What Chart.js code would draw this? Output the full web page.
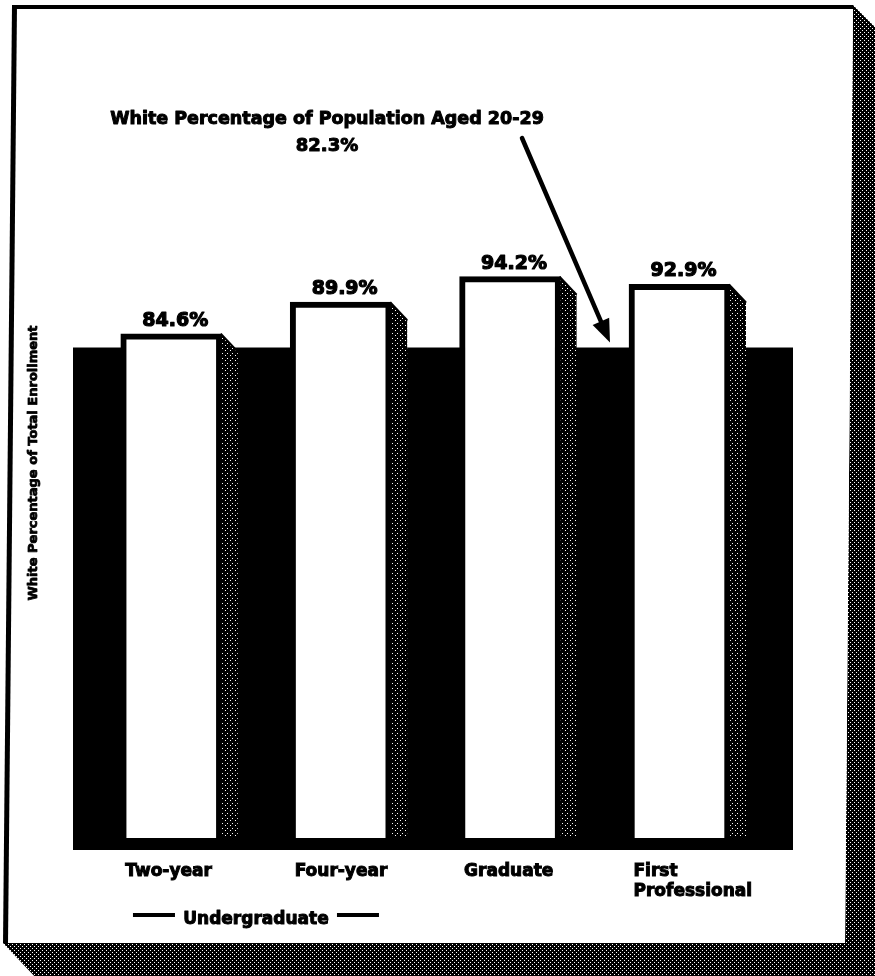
<!DOCTYPE html>
<html><head><meta charset="utf-8">
<script src="https://cdn.jsdelivr.net/npm/chart.js@4/dist/chart.umd.min.js"></script>
<style>html,body{margin:0;padding:0;background:#fff;} #wrap{position:relative;width:875px;height:976px;}</style>
</head><body><div id="wrap"><canvas id="c" width="875" height="976"></canvas></div>
<script>
// ---- data ----
const categories = ['Two-year', 'Four-year', 'Graduate', ['First', 'Professional']];
const whiteShareOfEnrollment = [84.6, 89.9, 94.2, 92.9];
const populationShare = [82.3];
const annotationTitle = 'White Percentage of Population Aged 20-29';
const yAxisTitle = 'White Percentage of Total Enrollment';
const groupLabel = 'Undergraduate';
const groupSpan = [0, 1];

const FONT = '"DejaVu Sans", "Liberation Sans", sans-serif';

function makePattern(size, whites) {
  const c = document.createElement('canvas'); c.width = c.height = size;
  const g = c.getContext('2d'); g.fillStyle = '#000'; g.fillRect(0, 0, size, size);
  g.fillStyle = '#fff'; whites.forEach(([x, y]) => g.fillRect(x, y, 1, 1));
  return c;
}
const frameTile = makePattern(4, [[0,0],[2,2]]);
const barTile = makePattern(5, [[0,0],[2,3]]);

function boldText(ctx, text, x, y, sw) {
  ctx.lineWidth = sw; ctx.strokeStyle = '#000'; ctx.lineJoin = 'round';
  ctx.strokeText(text, x, y); ctx.fillText(text, x, y);
}

const framePlugin = {
  id: 'frame',
  beforeDraw(chart) {
    const ctx = chart.ctx;
    ctx.save();
    ctx.fillStyle = '#fff'; ctx.fillRect(0, 0, chart.width, chart.height);
    // dithered drop shadow
    ctx.fillStyle = ctx.createPattern(frameTile, 'repeat');
    ctx.beginPath();
    ctx.moveTo(853, 5); ctx.lineTo(880, 32); ctx.lineTo(880, 980); ctx.lineTo(38, 980);
    ctx.lineTo(3, 943); ctx.lineTo(845, 943); ctx.closePath(); ctx.fill();
    // panel
    ctx.fillStyle = '#fff';
    ctx.beginPath();
    ctx.moveTo(12, 5); ctx.lineTo(853, 5); ctx.lineTo(845, 943); ctx.lineTo(3, 943); ctx.closePath(); ctx.fill();
    // borders
    ctx.fillStyle = '#000';
    ctx.fillRect(12, 5, 841, 4);
    ctx.beginPath();
    ctx.moveTo(12, 5); ctx.lineTo(17, 5); ctx.lineTo(8, 943); ctx.lineTo(3, 943); ctx.closePath(); ctx.fill();
    ctx.restore();
  }
};

const bandPlugin = {
  id: 'band',
  beforeDatasetsDraw(chart) {
    const ctx = chart.ctx, a = chart.chartArea, ys = chart.scales.y;
    const top = ys.getPixelForValue(populationShare[0]);
    ctx.save();
    ctx.fillStyle = '#000';
    ctx.fillRect(a.left, top, a.right - a.left, a.bottom - top);
    // bar shadows
    const pat = ctx.createPattern(barTile, 'repeat');
    chart.getDatasetMeta(0).data.forEach(bar => {
      const p = bar.getProps(['x', 'y', 'width', 'base'], true);
      const r = p.x + p.width / 2;
      ctx.fillStyle = pat;
      ctx.beginPath();
      ctx.moveTo(r - 1, p.y); ctx.lineTo(r + 16, p.y + 18); ctx.lineTo(r + 16, p.base);
      ctx.lineTo(r - 1, p.base); ctx.closePath(); ctx.fill();
      ctx.strokeStyle = '#000'; ctx.lineWidth = 2;
      ctx.beginPath(); ctx.moveTo(r - 1, p.y); ctx.lineTo(r + 16, p.y + 18); ctx.stroke();
    });
    ctx.restore();
  },
  afterDatasetsDraw(chart) {
    const ctx = chart.ctx, xs = chart.scales.x, ys = chart.scales.y;
    ctx.save();
    ctx.fillStyle = '#000';
    // value labels
    ctx.font = 'bold 19px ' + FONT;
    ctx.textAlign = 'center'; ctx.textBaseline = 'alphabetic';
    chart.getDatasetMeta(0).data.forEach((bar, i) => {
      const p = bar.getProps(['x', 'y'], true);
      boldText(ctx, whiteShareOfEnrollment[i].toFixed(1) + '%', p.x + 4, p.y - 8, 1.2);
    });
    // annotation
    ctx.font = 'bold 17.5px ' + FONT;
    boldText(ctx, annotationTitle, 327, 124, 1);
    ctx.font = 'bold 18px ' + FONT;
    boldText(ctx, populationShare[0].toFixed(1) + '%', 327, 151, 1);
    // arrow to band top
    const tipY = ys.getPixelForValue(populationShare[0]) - 5;
    const sx = 522, sy = 138, tx = 610, ty = tipY;
    const len = Math.hypot(tx - sx, ty - sy), ux = (tx - sx) / len, uy = (ty - sy) / len;
    ctx.strokeStyle = '#000'; ctx.lineWidth = 4.5; ctx.lineCap = 'round';
    ctx.beginPath(); ctx.moveTo(sx, sy); ctx.lineTo(tx - ux * 14, ty - uy * 14); ctx.stroke();
    ctx.beginPath();
    ctx.moveTo(tx, ty);
    ctx.lineTo(tx - ux * 23 + uy * 9, ty - uy * 23 - ux * 9);
    ctx.lineTo(tx - ux * 23 - uy * 9, ty - uy * 23 + ux * 9);
    ctx.closePath(); ctx.fill();
    // group bracket
    const cx = (xs.getPixelForValue(groupSpan[0]) + xs.getPixelForValue(groupSpan[1])) / 2;
    ctx.font = 'bold 17px ' + FONT;
    ctx.lineCap = 'butt';
    boldText(ctx, groupLabel, cx, 924, 1);
    ctx.fillRect(cx - 123, 913, 42, 4);
    ctx.fillRect(cx + 81, 913, 42, 4);
    // y title
    ctx.translate(34, 463); ctx.rotate(-Math.PI / 2);
    ctx.font = 'bold 13px ' + FONT; ctx.textBaseline = 'middle';
    boldText(ctx, yAxisTitle, 0, 0, 0.8);
    ctx.restore();
  }
};

new Chart(document.getElementById('c'), {
  type: 'bar',
  data: {
    datasets: [{
      data: whiteShareOfEnrollment.map((v, i) => ({ x: i, y: v })),
      backgroundColor: '#fff',
      borderColor: '#000',
      borderWidth: 6,
      borderSkipped: 'bottom',
      barThickness: 101
    }]
  },
  options: {
    responsive: false,
    animation: false,
    layout: { padding: { left: 73, right: 82, top: 242, bottom: 76 } },
    plugins: { legend: { display: false }, tooltip: { enabled: false } },
    scales: {
      x: {
        type: 'linear', min: -0.58, max: 3.67, offset: false,
        grid: { display: false, offset: false }, border: { display: false },
        afterFit(s) { s.height = 50; },
        ticks: {
          stepSize: 1, includeBounds: false, autoSkip: false, maxRotation: 0,
          align: 'start', labelOffset: -46, padding: 3,
          color: '#000', textStrokeColor: '#000', textStrokeWidth: 1,
          font: { family: FONT, weight: 'bold', size: 17 },
          callback: v => (Number.isInteger(v) && categories[v] !== undefined) ? categories[v] : ''
        }
      },
      y: { display: false, min: -2, max: 100 }
    }
  },
  plugins: [framePlugin, bandPlugin]
});
</script>
</body></html>
